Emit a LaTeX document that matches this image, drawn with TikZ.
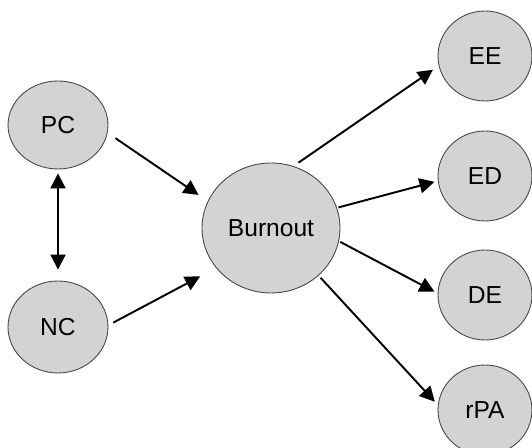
\documentclass[tikz,border=0pt]{standalone}
\usepackage{fontspec}
\setmainfont{Liberation Sans}
\usepackage{tikz}
\usetikzlibrary{shapes.geometric, arrows.meta}

\definecolor{bubblefill}{RGB}{211,211,211}
\definecolor{bubbleline}{RGB}{70,70,70}

\begin{document}
\begin{tikzpicture}[x=0.02cm, y=-0.02cm,
		bubble/.style={ellipse, draw=bubbleline, line width=0.5pt, fill=bubblefill, inner sep=0pt, font=\fontsize{14}{16}\selectfont},
		arr/.style={line width=1.1pt, -{Triangle[length=0.3cm, width=0.3cm]}}]
		\useasboundingbox (0, 0) rectangle (532, 448);
		\node[bubble, minimum width=2cm, minimum height=1.76cm] (PC) at (58, 125) {PC};
		\node[bubble, minimum width=2cm, minimum height=1.84cm] (NC) at (58, 327) {NC};
		\node[bubble, minimum width=2.76cm, minimum height=2.6cm] (Burnout) at (271, 228) {Burnout};
		\foreach \n/\y in {EE/56, ED/176, DE/295, rPA/410}
			\node[bubble, minimum width=1.88cm, minimum height=1.8cm] (\n) at (485, \y) {\n};
		\draw[line width=1.1pt, {Triangle[length=0.3cm, width=0.3cm]}-{Triangle[length=0.3cm, width=0.3cm]}, shorten <=0.08cm, shorten >=0.22cm] (PC.south) -- (NC.north);
		\draw[arr, shorten <=0.19cm, shorten >=0.22cm] (PC.-9) -- (Burnout.157);
		\draw[arr, shorten <=0.11cm, shorten >=0.36cm] (NC.2) -- (Burnout.-144);
		\foreach \n/\a/\b/\s/\e in {EE/70/-168/0.12cm/0.14cm, ED/17/-174/0.03cm/0.07cm, DE/-11/178/0.03cm/0.07cm, rPA/-45/174/0.06cm/0.09cm}
			\draw[arr, shorten <=\s, shorten >=\e] (Burnout.\a) -- (\n.\b);
	\end{tikzpicture}
\end{document}
